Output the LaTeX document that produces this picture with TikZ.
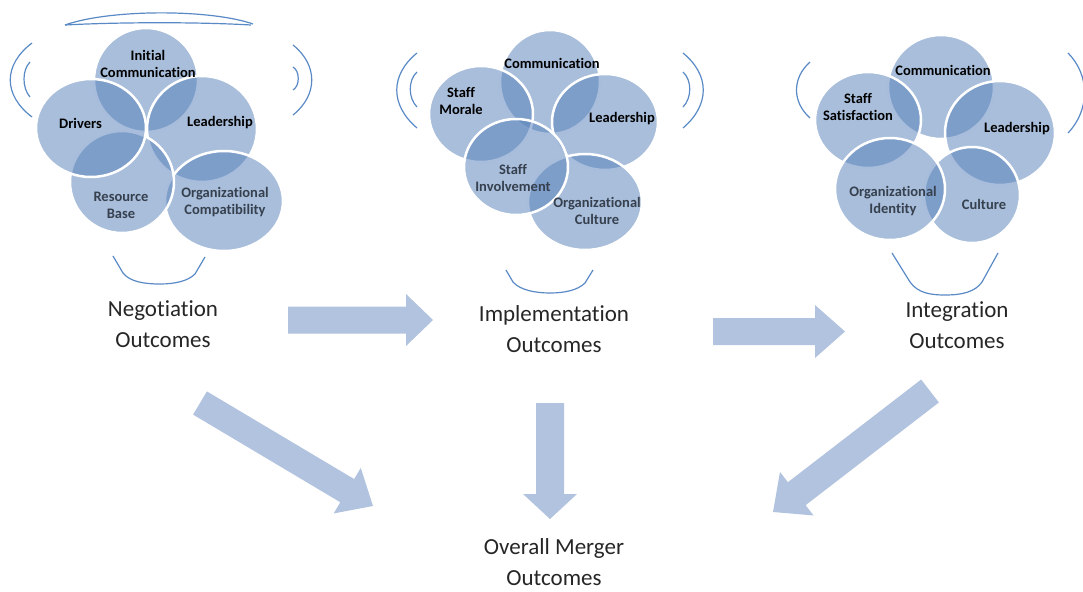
\documentclass[tikz,border=0pt]{standalone}
\usepackage{fontspec}
\setmainfont{Carlito}[Ligatures={NoCommon}]
\usetikzlibrary{calc}
\definecolor{vennblue}{HTML}{5882BA}
\definecolor{arrowblue}{HTML}{B1C3DE}
\definecolor{bracketblue}{HTML}{5A8AC6}
\definecolor{labelgrey}{HTML}{36404E}
\definecolor{maintext}{HTML}{262626}
% #1 start, #2 end, #3 half shaft width, #4 half head width, #5 head length
\newcommand{\blockarrow}[5]{%
  \coordinate (#1-h) at ($(#2)!#5!(#1)$);
  \fill[arrowfill] ($(#1)!#3!90:(#2)$) -- ($(#1-h)!#3!90:(#2)$) -- ($(#1-h)!#4!90:(#2)$)
    -- (#2) -- ($(#1-h)!#4!-90:(#2)$) -- ($(#1-h)!#3!-90:(#2)$) -- ($(#1)!#3!-90:(#2)$) -- cycle;
}
\begin{document}
\begin{tikzpicture}[x=1pt,y=-1pt,
  venn/.style={fill=vennblue, fill opacity=0.52, draw=white, line width=2.5pt},
  bracket/.style={draw=bracketblue, line width=1.2pt},
  arrowfill/.style={fill=arrowblue},
  blabel/.style={inner sep=0pt, align=center, font=\fontsize{14.5}{17}\selectfont\bfseries, text=black},
  glabel/.style={inner sep=0pt, align=center, font=\fontsize{14.5}{17}\selectfont\bfseries, text=labelgrey},
  mainlabel/.style={inner sep=0pt, align=center, font=\fontsize{23}{31}\selectfont, text=maintext}]
\useasboundingbox (0,0) rectangle (1083,591);

% ---------- cluster 1 brackets ----------
\draw[bracket] (65,25) .. controls (110,9) and (210,9) .. (253,24);
\draw[bracket] (65,25) .. controls (120,22) and (200,22) .. (251,25);
\draw[bracket] (32,43) .. controls (3,65) and (3,95) .. (32,117);
\draw[bracket] (30,62) .. controls (22,70) and (22,88) .. (30,97);
\draw[bracket] (293,45) .. controls (318,65) and (318,95) .. (293,115);
\draw[bracket] (293,67) .. controls (300,71) and (300,86) .. (293,90);
\draw[bracket] (113,256) -- (123,273) .. controls (130,282) and (145,284) .. (160,284)
  .. controls (175,284) and (188,281) .. (195,274) -- (205,257);

% ---------- cluster 1 circles ----------
\path[venn] (146,80) ellipse [x radius=52pt, y radius=52pt];
\path[venn] (202,129) ellipse [x radius=55pt, y radius=53pt];
\path[venn] (224,201) ellipse [x radius=59pt, y radius=50pt];
\path[venn] (122,182) ellipse [x radius=52pt, y radius=51pt];
\path[venn] (91,128) ellipse [x radius=55pt, y radius=49pt];
\node[blabel] (ic1) at (148,63.5) {Initial\\Communication};
\node[blabel] (dr1) at (80.5,123) {Drivers};
\node[blabel] (ld1) at (220,123) {Leadership};
\node[glabel] (rb1) at (121,205) {Resource\\Base};
\node[glabel] (oc1) at (225,202) {Organizational\\Compatibility};

% ---------- cluster 2 brackets ----------
\draw[bracket] (417,53) .. controls (390,75) and (390,105) .. (417,128);
\draw[bracket] (417,72) .. controls (408,80) and (408,98) .. (417,107);
\draw[bracket] (683,53) .. controls (710,75) and (710,105) .. (683,128);
\draw[bracket] (683,72) .. controls (692,80) and (692,98) .. (683,107);
\draw[bracket] (506,270) -- (513,282) .. controls (520,290) and (535,293) .. (550,293)
  .. controls (565,293) and (578,290) .. (585,283) -- (593,270);

% ---------- cluster 2 circles ----------
\path[venn] (550,82) ellipse [x radius=50pt, y radius=52pt];
\path[venn] (605,122) ellipse [x radius=53pt, y radius=48pt];
\path[venn] (585,202) ellipse [x radius=57pt, y radius=48pt];
\path[venn] (481,114) ellipse [x radius=52pt, y radius=48pt];
\path[venn] (516,167) ellipse [x radius=52pt, y radius=48pt];
\node[blabel] (cm2) at (552,63) {Communication};
\node[blabel] (sm2) at (461,101) {Staff\\Morale};
\node[blabel] (ld2) at (622,119) {Leadership};
\node[glabel] (si2) at (513,178) {Staff\\Involvement};
\node[glabel] (oc2) at (597,211) {Organizational\\Culture};

% ---------- cluster 3 brackets ----------
\draw[bracket] (810,62) .. controls (792,78) and (792,102) .. (810,118);
\draw[bracket] (1068,53) .. controls (1090,75) and (1090,110) .. (1068,133);
\draw[bracket] (892,253) -- (910,282) .. controls (918,293) and (930,295) .. (945,295)
  .. controls (962,295) and (975,292) .. (982,282) -- (998,253);

% ---------- cluster 3 circles ----------
\path[venn] (941,87) ellipse [x radius=53pt, y radius=52pt];
\path[venn] (1000,133) ellipse [x radius=55pt, y radius=52pt];
\path[venn] (972,195) ellipse [x radius=48pt, y radius=48pt];
\path[venn] (868,120) ellipse [x radius=53pt, y radius=48pt];
\path[venn] (890,189) ellipse [x radius=55pt, y radius=51pt];
\node[blabel] (cm3) at (943,70) {Communication};
\node[blabel] (ss3) at (858,107) {Staff\\Satisfaction};
\node[blabel] (ld3) at (1017,129) {Leadership};
\node[glabel] (oi3) at (893,201.5) {Organizational\\Identity};
\node[glabel] (cu3) at (984,204) {Culture};

% ---------- stage labels ----------
\node[mainlabel] (neg) at (163,324.5) {Negotiation\\Outcomes};
\node[mainlabel] (impl) at (554,329.5) {Implementation\\Outcomes};
\node[mainlabel] (integ) at (957,325.5) {Integration\\Outcomes};
\node[mainlabel] (overall) at (554,562) {Overall Merger\\Outcomes};

% ---------- block arrows ----------
\coordinate (a1s) at (288,320); \coordinate (a1e) at (433,320);
\coordinate (a2s) at (713,331.5); \coordinate (a2e) at (845,331.5);
\coordinate (a3s) at (200,403); \coordinate (a3e) at (373,506);
\coordinate (a4s) at (550,403); \coordinate (a4e) at (550,519);
\coordinate (a5s) at (930,391); \coordinate (a5e) at (773,512);
\blockarrow{a1s}{a1e}{13.5pt}{26pt}{27pt}
\blockarrow{a2s}{a2e}{13.5pt}{26.5pt}{30pt}
\blockarrow{a3s}{a3e}{13.5pt}{26.5pt}{30pt}
\blockarrow{a4s}{a4e}{14pt}{27pt}{25pt}
\blockarrow{a5s}{a5e}{14.5pt}{27.5pt}{30pt}
\end{tikzpicture}
\end{document}
